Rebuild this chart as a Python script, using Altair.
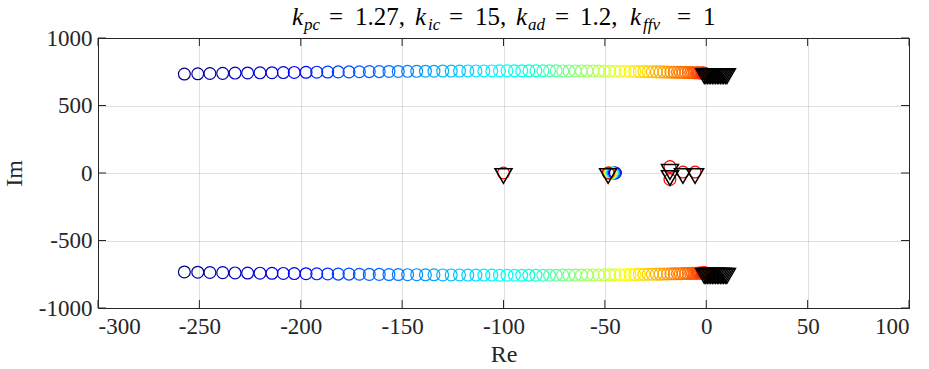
import altair as alt
import pandas as pd

# ---- data ----
# upper branch of the moving complex pole pair (lower branch is its conjugate)
arc_re = [-257.4, -250.8, -244.8, -238.5, -232.4, -226.2, -220.1, -214.2, -208.6, -203.2,
          -197.4, -192.1, -186.7, -181.5, -176.2, -171.1, -166.2, -161.3, -156.5, -151.9,
          -147.3, -142.8, -138.5, -134.3, -130.0, -125.8, -121.7, -117.6, -113.6, -109.7,
          -105.8, -102.0, -98.3, -94.6, -91.0, -87.5, -84.0, -80.6, -77.3, -74.0,
          -70.8, -67.7, -64.6, -61.6, -58.7, -55.8, -53.0, -50.3, -47.6, -45.0,
          -42.5, -40.0, -37.6, -35.3, -33.0, -30.8, -28.7, -26.6, -24.6, -22.7,
          -20.9, -19.1, -17.4, -15.8, -14.2, -12.8, -11.4, -10.1, -8.9, -7.7,
          -6.7, -5.7, -4.8, -4.0, -3.3, -2.6, -2.0, -1.5, -1.1, -0.7]
arc_im = [733, 735, 737, 738, 740, 741, 742, 743, 744, 745,
          746, 747, 748, 749, 749, 750, 751, 751, 752, 752,
          753, 753, 754, 754, 755, 755, 755, 756, 756, 756,
          756, 757, 757, 757, 757, 757, 757, 757, 757, 757,
          756, 756, 756, 756, 755, 755, 755, 754, 754, 754,
          753, 753, 752, 752, 751, 751, 750, 750, 749, 749,
          748, 748, 747, 747, 746, 746, 745, 745, 744, 744,
          743, 743, 742, 742, 741, 741, 740, 740, 739, 739]
# slowly moving real pole near -48
mid_re = [-44.8, -45.3, -45.8, -46.3, -46.8, -47.3, -47.8, -48.2, -48.4]
mid_im = [0, 0, 0, 0, 0, 0, 0, 0, 0]
# poles that stay put (only the last, red circle is visible)
fix_re = [-100.0, -17.9, -17.9, -11.5, -5.5]
fix_im = [0, 48, -48, 7, 7]
# triangle markers
tri_re = [-1.0, -0.2, 0.6, 1.4, 2.2, 3.0, 3.8, 4.6, 5.4, 6.2, 7.0, 7.8, 8.6, 9.4, 10.2]
tri_im = [740] * 15
tri2_re = [-100.0, -48.4, -17.9, -17.9, -11.5, -5.5]
tri2_im = [0, 0, 30, -15, 0, 0]

x_ticks = [-300, -250, -200, -150, -100, -50, 0, 50, 100]
y_ticks = [-1000, -500, 0, 500, 1000]

# ---- tables ----
n = len(arc_re)
rows = []
for i in range(n):
    t = i / (n - 1)
    rows.append({"re": arc_re[i], "im": arc_im[i], "t": t})
    rows.append({"re": arc_re[i], "im": -arc_im[i], "t": t})
m = len(mid_re)
for i in range(m):
    rows.append({"re": mid_re[i], "im": mid_im[i], "t": i / (m - 1)})
for r, im in zip(fix_re, fix_im):
    rows.append({"re": r, "im": im, "t": 1.0})
circ = pd.DataFrame(rows)
circ["order"] = range(len(circ))

tri = pd.DataFrame({"re": tri_re + tri_re + tri2_re,
                    "im": tri_im + [-v for v in tri_im] + tri2_im})

FONT = "Liberation Serif"
INK = "#262626"
W, H = 811, 270

xs = alt.Scale(domain=[-300, 100], nice=False, zero=False)
ys = alt.Scale(domain=[-1000, 1000], nice=False, zero=False)

jet = alt.Scale(domain=[0, 0.125, 0.25, 0.4, 0.52, 0.65, 0.8, 1.0],
                range=["#00008F", "#0000FF", "#0080FF", "#00FFFF", "#80FF80",
                       "#FFFF00", "#FF8000", "#FF0000"])

base_x = alt.X("re:Q", scale=xs, axis=alt.Axis(
    values=x_ticks, title="Re", grid=True, tickSize=0, labelPadding=7,
    labelExpr="datum.value + ''", titlePadding=4))
base_y = alt.Y("im:Q", scale=ys, axis=alt.Axis(
    values=y_ticks, title="Im", grid=True, tickSize=0, labelPadding=6,
    labelExpr="datum.value + ''", titlePadding=12))

circles = alt.Chart(circ).mark_point(
    shape="circle", filled=False, size=140, strokeWidth=1.2, opacity=1
).encode(
    x=base_x, y=base_y,
    color=alt.Color("t:Q", scale=jet, legend=None),
    order="order:Q",
)

triangles = alt.Chart(tri).mark_point(
    shape="triangle-down", filled=False, size=290, strokeWidth=1.5,
    color="black", opacity=1, yOffset=3
).encode(x=alt.X("re:Q", scale=xs), y=alt.Y("im:Q", scale=ys))

xt = pd.DataFrame({"v": x_ticks})
yt = pd.DataFrame({"v": y_ticks})
tick_bot = alt.Chart(xt).mark_rule(color=INK, strokeWidth=1).encode(
    x=alt.X("v:Q", scale=xs), y=alt.value(H), y2=alt.value(H - 8))
tick_top = alt.Chart(xt).mark_rule(color=INK, strokeWidth=1).encode(
    x=alt.X("v:Q", scale=xs), y=alt.value(0), y2=alt.value(8))
tick_left = alt.Chart(yt).mark_rule(color=INK, strokeWidth=1).encode(
    y=alt.Y("v:Q", scale=ys), x=alt.value(0), x2=alt.value(8))
tick_right = alt.Chart(yt).mark_rule(color=INK, strokeWidth=1).encode(
    y=alt.Y("v:Q", scale=ys), x=alt.value(W), x2=alt.value(W - 8))

# title pieces (k with subscripts), placed like TeX would set them
one = pd.DataFrame({"a": [0]})
MAIN, SUB = 25, 17
pieces = [
    ("k", 292, "italic", MAIN, 0), ("pc", 304, "italic", SUB, 5),
    ("=", 329, "normal", MAIN, 0), ("1.27,", 355, "normal", MAIN, 0),
    ("k", 415, "italic", MAIN, 0), ("ic", 428, "italic", SUB, 5),
    ("=", 449, "normal", MAIN, 0), ("15,", 475, "normal", MAIN, 0),
    ("k", 516, "italic", MAIN, 0), ("ad", 528, "italic", SUB, 5),
    ("=", 555, "normal", MAIN, 0), ("1.2,", 580, "normal", MAIN, 0),
    ("k", 630, "italic", MAIN, 0), ("ffv", 643, "italic", SUB, 5),
    ("=", 677, "normal", MAIN, 0), ("1", 703, "normal", MAIN, 0),
]
title_layers = []
for txt, px, style, fs, dy in pieces:
    title_layers.append(
        alt.Chart(one).mark_text(
            text=txt, font=FONT, fontStyle=style, fontSize=fs, color="black",
            align="left", baseline="alphabetic"
        ).encode(x=alt.value(px - 98), y=alt.value(25 - 38 + dy))
    )

chart = alt.layer(
    circles, triangles, tick_bot, tick_top, tick_left, tick_right, *title_layers
).properties(
    width=W, height=H,
    padding={"left": 98, "top": 38, "right": 20, "bottom": 61},
    autosize=alt.AutoSizeParams(type="none"),
    background="white",
).configure_view(
    stroke=INK, strokeWidth=1
).configure_axis(
    domainColor=INK, domainWidth=1,
    gridColor=INK, gridOpacity=0.15, gridWidth=1,
    labelFont=FONT, labelFontSize=23, labelColor=INK,
    titleFont=FONT, titleFontSize=24, titleColor=INK, titleFontWeight="normal",
)

chart.save("out.html", embed_options={"renderer": "svg", "actions": False})
